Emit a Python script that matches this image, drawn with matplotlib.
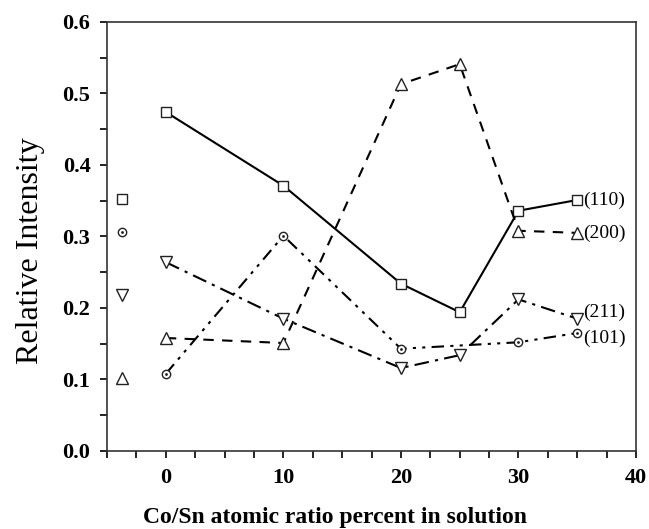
import matplotlib.pyplot as plt
from matplotlib.ticker import MultipleLocator

plt.rcParams['font.family'] = ['Liberation Serif', 'DejaVu Serif']

# Co/Sn ratio (%) and relative intensities of each reflection
ratio = [0, 10, 20, 25, 30, 35]
i110 = [0.474, 0.371, 0.234, 0.194, 0.336, 0.351]
i200 = [0.158, 0.151, 0.513, 0.541, 0.308, 0.305]
i211 = [0.264, 0.185, 0.116, 0.134, 0.212, 0.185]
ratio101 = [0, 10, 20, 30, 35]
i101 = [0.108, 0.301, 0.143, 0.152, 0.165]

# reference points drawn left of zero
ref_x = -3.7
ref110 = 0.352
ref101 = 0.306
ref211 = 0.218
ref200 = 0.102

labels = ['(110)', '(200)', '(211)', '(101)']
label_y = [0.351, 0.305, 0.194, 0.157]

fig = plt.figure(figsize=(6.49, 5.29), dpi=100)
ax = fig.add_axes([0.165, 0.1475, 0.815, 0.811])

mk = dict(mfc='white', mec='#222222', mew=1.0, color='black', lw=1.5, zorder=3)
ax.plot(ratio, i110, marker='s', ms=7, ls='-', **mk)
ax.plot(ratio, i200, marker='^', ms=8, ls=(0, (5, 4)), **mk)
ax.plot(ratio, i211, marker='v', ms=8, ls=(0, (7, 3, 1.5, 3)), **mk)
ax.plot(ratio101, i101, marker='o', ms=6, ls=(0, (6, 3, 1.5, 3, 1.5, 3)), **mk)
ax.plot(ratio101, i101, marker='.', ms=2, ls='none', color='#222222', zorder=4)

ax.plot(ref_x, ref110, marker='s', ms=7, ls='none', **mk)
ax.plot(ref_x, ref101, marker='o', ms=6, ls='none', **mk)
ax.plot(ref_x, ref101, marker='.', ms=2, ls='none', color='#222222', zorder=4)
ax.plot(ref_x, ref211, marker='v', ms=8, ls='none', **mk)
ax.plot(ref_x, ref200, marker='^', ms=8, ls='none', **mk)

for lab, yv in zip(labels, label_y):
    ax.text(35.5, yv, lab, fontsize=14, ha='left', va='center')

ax.set_xlim(-5, 40)
ax.set_ylim(0, 0.6)
ax.xaxis.set_major_locator(MultipleLocator(10))
ax.xaxis.set_minor_locator(MultipleLocator(2.5))
ax.yaxis.set_major_locator(MultipleLocator(0.1))
ax.yaxis.set_minor_locator(MultipleLocator(0.05))
ax.set_yticks([0, 0.1, 0.2, 0.3, 0.4, 0.5, 0.6])
ax.set_yticklabels(['0.0', '0.1', '0.2', '0.3', '0.4', '0.5', '0.6'])
ax.tick_params(which='both', direction='out', width=1.2, top=False, right=False)
ax.tick_params(which='major', length=5, labelsize=16, pad=7)
ax.tick_params(which='minor', length=5)
for t in ax.get_xticklabels() + ax.get_yticklabels():
    t.set_fontweight('bold')
for s in ax.spines.values():
    s.set_linewidth(1.2)
    s.set_color('#333333')

ax.set_xlabel('Co/Sn atomic ratio percent in solution', fontsize=17,
              fontweight='bold')
ax.xaxis.set_label_coords(0.43, -0.13)
ax.set_ylabel('Relative Intensity', fontsize=23)
ax.yaxis.set_label_coords(-0.118, 0.468)

fig.savefig('out.png', dpi=100)
